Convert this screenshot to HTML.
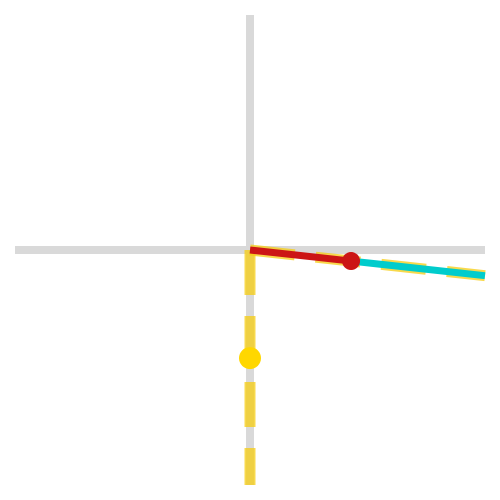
<!DOCTYPE html>
<html><head><meta charset="utf-8"><style>body{margin:0;background:#fff}svg{display:block}</style></head>
<body>
<svg id="chart" width="500" height="500">
<g id="axes"></g>
<g id="marks"></g>
</svg>
<script>
const axisRange = [-1, 1];
const redPoint = [0.43, -0.047];
const yellowPoint = [0, -0.46];
const sx = v => 250 + v * 235;
const sy = v => 250 - v * 235;
const NS = 'http://www.w3.org/2000/svg';
function mk(tag, parent, attrs) {
  const e = document.createElementNS(NS, tag);
  for (const k in attrs) e.setAttribute(k, attrs[k]);
  parent.appendChild(e);
  return e;
}
const axes = document.getElementById('axes');
const marks = document.getElementById('marks');
let e = mk('line', axes, {x1: sx(axisRange[0]), y1: sy(0), x2: sx(axisRange[1]), y2: sy(0), stroke: '#d9d9d9', 'stroke-width': 8});


e = mk('line', axes, {x1: sx(0), y1: sy(axisRange[1]), x2: sx(0), y2: sy(axisRange[0]), stroke: '#d9d9d9', 'stroke-width': 8});


const t = axisRange[1] / redPoint[0];
const endX = redPoint[0] * t, endY = redPoint[1] * t;
e = mk('line', marks, {x1: sx(0), y1: sy(0), x2: sx(0), y2: sy(axisRange[0]), stroke: '#f5cc10', 'stroke-opacity': 0.75, 'stroke-width': 11, 'stroke-dasharray': '45 21'});


e = mk('line', marks, {x1: sx(0), y1: sy(0), x2: sx(endX), y2: sy(endY), stroke: '#f5cc10', 'stroke-opacity': 0.75, 'stroke-width': 11, 'stroke-dasharray': '45 21'});


e = mk('line', marks, {x1: sx(redPoint[0]), y1: sy(redPoint[1]), x2: sx(endX), y2: sy(endY), stroke: '#00cccc', 'stroke-width': 7});


e = mk('line', marks, {x1: sx(0), y1: sy(0), x2: sx(redPoint[0]), y2: sy(redPoint[1]), stroke: '#cc1515', 'stroke-width': 7});


e = mk('circle', marks, {cx: sx(redPoint[0]), cy: sy(redPoint[1]), r: 9, fill: '#cc1515'});


e = mk('circle', marks, {cx: sx(yellowPoint[0]), cy: sy(yellowPoint[1]), r: 11, fill: '#ffd700'});


</script>
</body></html>
